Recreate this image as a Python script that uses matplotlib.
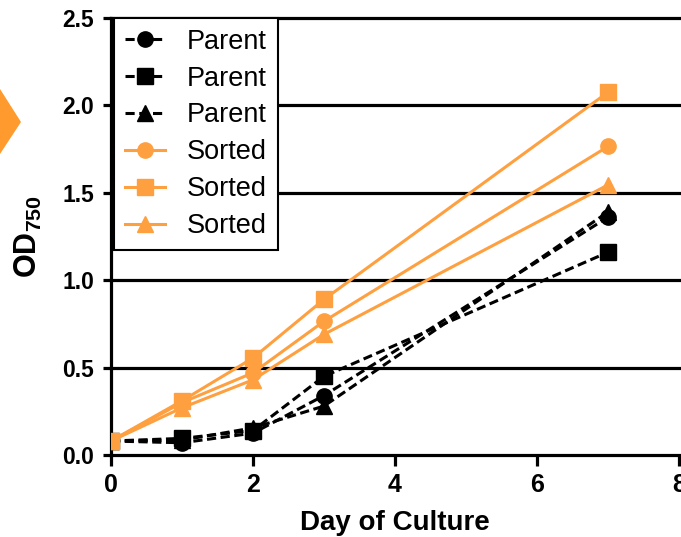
import matplotlib.pyplot as plt
from matplotlib.patches import Polygon

plt.rcParams['font.family'] = ['Liberation Sans', 'DejaVu Sans']
plt.rcParams['mathtext.fontset'] = 'custom'
plt.rcParams['mathtext.rm'] = 'Liberation Sans'
plt.rcParams['mathtext.bf'] = 'Liberation Sans:bold'

# dni kulture
dani = [0, 1, 2, 3, 7]

# OD750 - roditeljski soj (tri ponavljanja)
parent_krug = [0.08, 0.07, 0.125, 0.34, 1.36]
parent_kvadrat = [0.08, 0.095, 0.14, 0.45, 1.16]
parent_trougao = [0.08, 0.085, 0.155, 0.28, 1.39]

# OD750 - sortirane celije
sorted_krug = [0.08, 0.30, 0.47, 0.765, 1.765]
sorted_kvadrat = [0.08, 0.31, 0.555, 0.89, 2.075]
sorted_trougao = [0.08, 0.27, 0.43, 0.69, 1.545]

narandzasta = '#FFA040'
crna = 'black'

fig = plt.figure(figsize=(6.81, 5.37), dpi=100)
ax = fig.add_axes([0.163, 0.1527, 0.834, 0.8138])

# horizontalne linije mreze
for yy in [0.5, 1.0, 1.5, 2.0, 2.5]:
    ax.axhline(yy, color='black', lw=2.3, zorder=1, clip_on=False)

lw = 2.2
ms = 11
isprekidana = (0, (3, 1.5))
ax.plot(dani, parent_krug, color=crna, ls=isprekidana, lw=lw, marker='o', ms=ms, label='Parent', zorder=3)
ax.plot(dani, parent_kvadrat, color=crna, ls=isprekidana, lw=lw, marker='s', ms=ms, label='Parent', zorder=3)
ax.plot(dani, parent_trougao, color=crna, ls=isprekidana, lw=lw, marker='^', ms=ms, label='Parent', zorder=3)
ax.plot(dani, sorted_krug, color=narandzasta, lw=lw, marker='o', ms=ms, label='Sorted', zorder=4)
ax.plot(dani, sorted_kvadrat, color=narandzasta, lw=lw, marker='s', ms=ms, label='Sorted', zorder=4)
ax.plot(dani, sorted_trougao, color=narandzasta, lw=lw, marker='^', ms=ms, label='Sorted', zorder=4)

ax.set_xlim(0, 8)
ax.set_ylim(0, 2.5)
ax.set_xticks([0, 2, 4, 6, 8])
ax.set_yticks([0.0, 0.5, 1.0, 1.5, 2.0, 2.5])
ax.set_yticklabels(['0.0', '0.5', '1.0', '1.5', '2.0', '2.5'])
for s in ['top', 'right']:
    ax.spines[s].set_visible(False)
for s in ['left', 'bottom']:
    ax.spines[s].set_linewidth(2.3)
ax.tick_params(axis='x', width=2.3, length=8, labelsize=18, pad=5)
ax.tick_params(axis='y', width=2.3, length=6, labelsize=16.5, pad=6)
for t in ax.get_xticklabels() + ax.get_yticklabels():
    t.set_fontweight('bold')

ax.set_xlabel('Day of Culture', fontsize=20, fontweight='bold', labelpad=9)
ax.set_ylabel(r'$\mathbf{OD_{750}}$', fontsize=22, labelpad=13)

leg = ax.legend(loc='upper left', bbox_to_anchor=(0.005, 1.0), borderaxespad=0, fontsize=19.5,
                frameon=True, fancybox=False, framealpha=1, edgecolor='black',
                handlelength=1.5, labelspacing=0.4, borderpad=0.4, handletextpad=0.8)
leg.get_frame().set_linewidth(1.5)
leg.set_zorder(10)

# narandzasta strelica levo (koordinate figure)
strelica = Polygon([(0, 1 - 89 / 537), (21 / 681, 1 - 122 / 537), (0, 1 - 154 / 537)], closed=True,
                   transform=fig.transFigure, facecolor='#FF9A2E', edgecolor='none')
fig.patches.append(strelica)

fig.savefig('out.png', dpi=100)
